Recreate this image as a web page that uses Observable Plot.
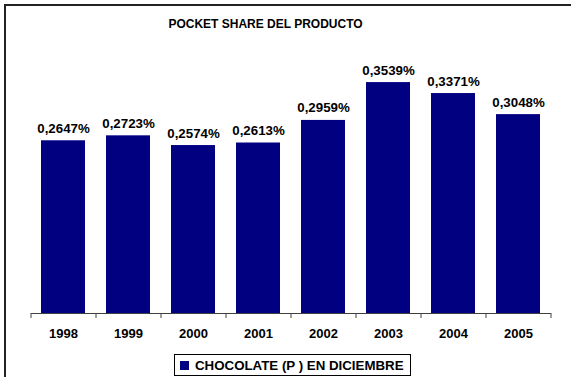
<!DOCTYPE html>
<html><head><meta charset="utf-8">
<script src="https://cdn.jsdelivr.net/npm/d3@7"></script>
<script src="https://cdn.jsdelivr.net/npm/@observablehq/plot@0.6"></script>
<style>
body{margin:0;background:#fff;font-family:"Liberation Sans",Arial,sans-serif;}
#wrap{position:relative;width:571px;height:377px;overflow:hidden;background:#fff;}
#frame{position:absolute;left:4px;top:4px;width:800px;height:600px;border-left:2px solid #222;border-top:2px solid #222;}
#title{position:absolute;left:0;width:531px;top:18px;text-align:center;font-weight:bold;font-size:12px;line-height:12px;color:#000;}
#chart{position:absolute;left:0;top:0;}
#legend{position:absolute;left:174px;top:354px;width:235px;height:20px;border:1px solid #000;background:#fff;display:flex;align-items:center;font-weight:bold;font-size:13.3px;line-height:13px;color:#000;}
#legend .sw{width:9px;height:9px;background:#000080;margin-left:5px;margin-right:6px;}
</style></head>
<body>
<div id="wrap">
  <div id="frame"></div>
  <div id="title">POCKET SHARE DEL PRODUCTO</div>
  <div id="chart"></div>
  <div id="legend"><span class="sw"></span><span>CHOCOLATE (P ) EN DICIEMBRE</span></div>
</div>
<script>
const years = ["1998","1999","2000","2001","2002","2003","2004","2005"];
const values = [0.2647, 0.2723, 0.2574, 0.2613, 0.2959, 0.3539, 0.3371, 0.3048];
const seriesName = "CHOCOLATE (P ) EN DICIEMBRE";

const data = years.map((y, i) => ({year: y, value: values[i]}));
const fmt = v => v.toFixed(4).replace(".", ",") + "%";

const plot = Plot.plot({
  width: 571,
  height: 345,
  marginTop: 52,
  marginBottom: 32,
  marginLeft: 31,
  marginRight: 20,
  style: {fontFamily: "'Liberation Sans', Arial, sans-serif", fontWeight: "bold", background: "transparent", color: "#000"},
  x: {domain: years, paddingInner: 0.32, paddingOuter: 0.16, label: null},
  y: {domain: [0, 0.4], axis: null},
  marks: [
    Plot.barY(data, {x: "year", y: "value", fill: "#000080"}),
    Plot.ruleY([0], {stroke: "#404040", strokeWidth: 1}),
    Plot.ruleX(years, {x: d => d, dx: -32.5, y1: 0, y2: -5 / 653, stroke: "#404040"}),
    Plot.ruleX([years[years.length - 1]], {x: d => d, dx: 32.5, y1: 0, y2: -5 / 653, stroke: "#404040"}),
    Plot.text(data, {x: "year", y: "value", text: d => fmt(d.value), dy: -8, lineAnchor: "bottom", fontSize: 13.3, fill: "#000"}),
    Plot.axisX({tickSize: 0, tickPadding: 15, fontSize: 13, label: null})
  ]
});
document.getElementById("chart").appendChild(plot);
</script>
</body></html>
